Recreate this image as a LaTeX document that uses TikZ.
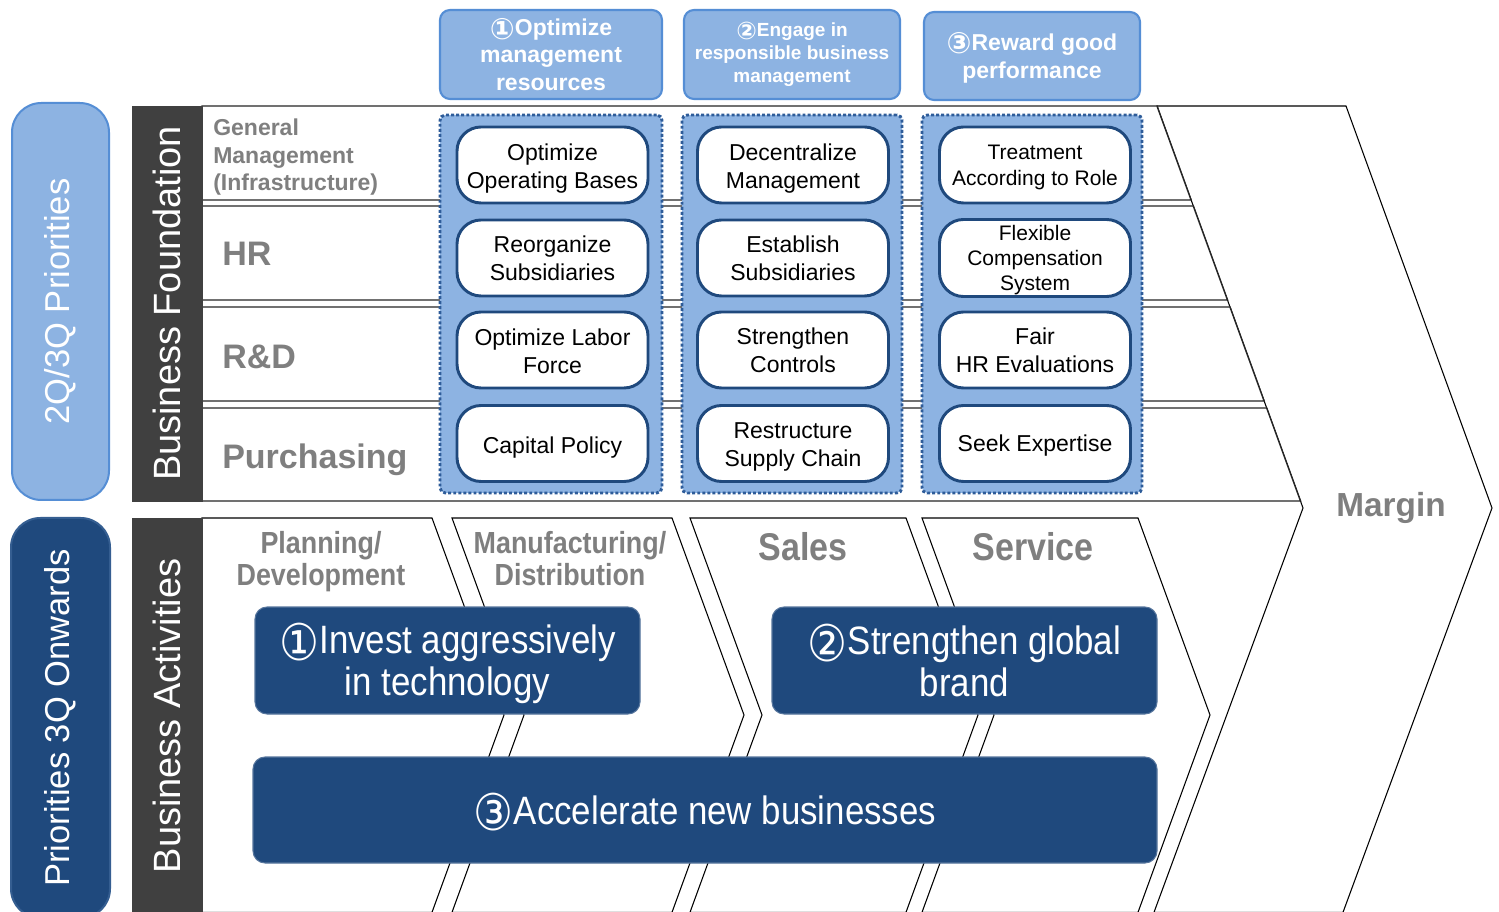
\documentclass[tikz,border=0pt]{standalone}
\usepackage{fontspec}
\usepackage{graphicx}
\setmainfont{Liberation Sans}
\newfontfamily\cond[FakeStretch=0.88]{Liberation Sans}
\newfontfamily\sym{DejaVu Sans}
\newfontfamily\symc[FakeStretch=0.88]{DejaVu Sans}
\newcommand\cdg[2]{\smash{\raisebox{-0.17em}{\scalebox{1.28}{#1#2}}}}
\newcommand\up[1]{\rule{0pt}{#1}}
\definecolor{lb}{HTML}{8DB3E2}
\definecolor{lbd}{HTML}{558ED5}
\definecolor{dotc}{HTML}{2E5C99}
\definecolor{db}{HTML}{1F497D}
\definecolor{barc}{HTML}{404040}
\definecolor{lblc}{HTML}{7F7F7F}
\begin{document}
\begin{tikzpicture}[x=0.75pt,y=-0.75pt,
  rowline/.style={draw=black!85,line width=1.1pt,fill=white},
  chev/.style={draw=black,line width=0.8pt,fill=white},
  prio/.style={rectangle,rounded corners=22pt,line width=1.5pt,rotate=90,text=white,
     font=\fontsize{25.9pt}{30pt}\selectfont,inner sep=0pt},
  barbox/.style={rectangle,fill=barc,draw=barc,rotate=90,text=white,
     font=\fontsize{28.5pt}{34pt}\selectfont,inner sep=0pt},
  headbox/.style={rectangle,rounded corners=7.5pt,fill=lb,draw=lbd,line width=1.6pt,
     text=white,align=center,inner sep=0pt,minimum height=66.75pt},
  colbox/.style={rectangle,rounded corners=4pt,fill=lb,draw=dotc,line width=2.2pt,
     dash pattern=on 2.2pt off 1.6pt,minimum height=283.5pt,inner sep=0pt},
  pill/.style={rectangle,rounded corners=18pt,fill=white,draw=db,line width=2.2pt,
     minimum width=143.25pt,minimum height=57pt,inner sep=1pt,align=center,
     font=\fontsize{17.25pt}{21pt}\selectfont},
  pillsm/.style={pill,font=\fontsize{15.75pt}{19pt}\selectfont},
  rowlbl/.style={text=lblc,font=\bfseries\fontsize{25.5pt}{30pt}\selectfont,anchor=west,inner sep=0pt},
  actlbl/.style={text=lblc,align=center,inner sep=0pt},
  darkbox/.style={rectangle,rounded corners=9pt,fill=db,draw=db!75!white,line width=0.8pt,
     text=white,align=center,inner sep=0pt,
     font=\cond\fontsize{29.7pt}{31.5pt}\selectfont}
]
\useasboundingbox (0,0) rectangle (1499,912);
\clip (0,0) rectangle (1499,912);
\fill[white] (0,0) rectangle (1499,912);

% margin chevron
\draw[chev] (1157,106) -- (1346,106) -- (1492,508) -- (1343,912.3) -- (1154,912.3) -- (1303,508) -- cycle;

% foundation rows
\draw[rowline] (202,106) -- (1157,106) -- (1191.1,200) -- (202,200) -- cycle;
\draw[rowline] (202,206) -- (1193.3,206) -- (1227.5,300) -- (202,300) -- cycle;
\draw[rowline] (202,307) -- (1230.0,307) -- (1264.1,401) -- (202,401) -- cycle;
\draw[rowline] (202,408) -- (1266.7,408) -- (1300.5,501) -- (202,501) -- cycle;

% activity chevrons
\draw[chev] (202,518) -- (432,518) -- (504,715) -- (432,912.3) -- (202,912.3) -- cycle;
\draw[chev] (452,518) -- (672,518) -- (744,715) -- (672,912.3) -- (452,912.3) -- (524,715) -- cycle;
\draw[chev] (690,518) -- (906,518) -- (978,715) -- (906,912.3) -- (690,912.3) -- (762,715) -- cycle;
\draw[chev] (922,518) -- (1138,518) -- (1210,715) -- (1138,912.3) -- (922,912.3) -- (994,715) -- cycle;

% left priority boxes
\node[prio,fill=lb,draw=lbd,minimum width=297.75pt,minimum height=72.75pt] (pA) at (60.5,301.5) {2Q/3Q Priorities};
\node[prio,fill=db,draw=db!80!lb,minimum width=300pt,minimum height=74.25pt] (pB) at (60.5,718) {Priorities 3Q Onwards};

% dark bars
\node[barbox,minimum width=296.25pt,minimum height=52.5pt] (barF) at (167,303.5) {Business Foundation};
\node[barbox,minimum width=297pt,minimum height=52.5pt] (barA) at (167,716) {Business Activities};

% header boxes
\node[headbox,minimum width=166.5pt,font=\bfseries\fontsize{17.25pt}{20.5pt}\selectfont] (h1) at (551,54.5)
  {\up{12.6pt}\cdg{\sym\bfseries}{①}Optimize\\management\\resources};
\node[headbox,minimum width=162pt,font=\bfseries\fontsize{14.25pt}{17.25pt}\selectfont] (h2) at (792,54.5)
  {\up{10.4pt}\cdg{\sym\bfseries}{②}Engage in\\responsible business\\management};
\node[headbox,minimum width=162pt,minimum height=66pt,font=\bfseries\fontsize{17.25pt}{21pt}\selectfont] (h3) at (1032,56)
  {\up{15.6pt}\cdg{\sym\bfseries}{③}Reward good\\performance};

% dotted columns
\node[colbox,minimum width=166.5pt] (c1) at (551,304) {};
\node[colbox,minimum width=165pt] (c2) at (792,304) {};
\node[colbox,minimum width=165pt] (c3) at (1032,304) {};

% pills column 1
\node[pill] (p11) at (552.5,165) {\up{17.1pt}Optimize\\Operating Bases};
\node[pill] (p12) at (552.5,258) {Reorganize\\Subsidiaries};
\node[pill] (p13) at (552.5,350) {\up{14.1pt}Optimize Labor\\Force};
\node[pill] (p14) at (552.5,443.5) {\up{18.6pt}Capital Policy};
% pills column 2
\node[pill] (p21) at (793,165) {\up{17.1pt}Decentralize\\Management};
\node[pill] (p22) at (793,258) {Establish\\Subsidiaries};
\node[pill] (p23) at (793,350) {Strengthen\\Controls};
\node[pill] (p24) at (793,443.5) {\up{17.1pt}Restructure\\Supply Chain};
% pills column 3
\node[pillsm] (p31) at (1035,165) {\up{14.5pt}Treatment\\According to Role};
\node[pillsm] (p32) at (1035,258) {\up{14.5pt}Flexible\\Compensation\\System};
\node[pill] (p33) at (1035,350) {Fair\\HR Evaluations};
\node[pill] (p34) at (1035,443.5) {\up{15.6pt}Seek Expertise};

% row labels
\node[rowlbl,align=left,font=\bfseries\fontsize{17.25pt}{20.6pt}\selectfont] (lGM) at (213,154)
  {\up{17.3pt}General\\Management\\(Infrastructure)};
\node[rowlbl] (lHR) at (222,254) {HR};
\node[rowlbl] (lRD) at (222,355) {\up{20.1pt}R\&D};
\node[rowlbl] (lPU) at (222,456) {\up{24.6pt}Purchasing};

% activity labels
\node[actlbl,font=\cond\bfseries\fontsize{22.9pt}{24pt}\selectfont] (lPL) at (321,559) {\up{21.2pt}Planning/\\Development};
\node[actlbl,font=\cond\bfseries\fontsize{22.9pt}{24pt}\selectfont] (lMA) at (570,559) {Manufacturing/\\Distribution};
\node[actlbl,font=\cond\bfseries\fontsize{29pt}{32pt}\selectfont] (lSA) at (803,547) {Sales};
\node[actlbl,font=\cond\bfseries\fontsize{29pt}{32pt}\selectfont] (lSE) at (1033,547) {Service};
\node[actlbl,font=\bfseries\fontsize{25pt}{30pt}\selectfont] (lMG) at (1391,505) {\up{22.75pt}Margin};

% dark blue priority boxes
\node[darkbox,minimum width=288.75pt,minimum height=80.25pt] (d1) at (447.5,660.5)
  {\up{27.9pt}\cdg{\symc}{①}Invest aggressively\\in technology};
\node[darkbox,minimum width=288.75pt,minimum height=80.25pt] (d2) at (964.5,660.5)
  {\up{23.4pt}\cdg{\symc}{②}Strengthen global\\brand};
\node[darkbox,minimum width=678pt,minimum height=79.5pt] (d3) at (705,810)
  {\up{21.6pt}\cdg{\symc}{③}Accelerate new businesses};
\end{tikzpicture}
\end{document}
